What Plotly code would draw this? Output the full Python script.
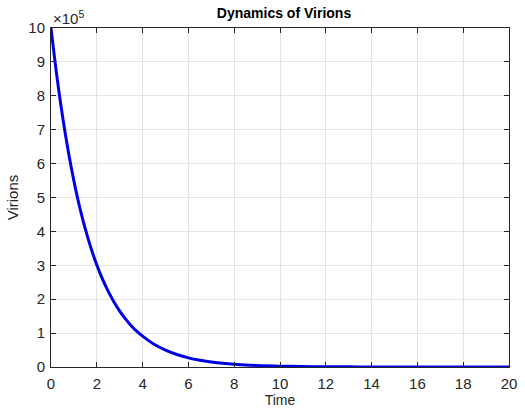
import plotly.graph_objects as go

# Values (time, virions)
time = [0, 0.25, 0.5, 0.75, 1, 1.25, 1.5, 1.75, 2, 2.25, 2.5, 2.75, 3, 3.25, 3.5, 3.75, 4,
        4.5, 5, 5.5, 6, 6.5, 7, 7.5, 8, 9, 10, 11, 12, 13, 14, 15, 16, 17, 18, 19, 20]
virions = [1000000, 861000, 741000, 638000, 549000, 472000, 407000, 350000, 301000, 259000,
           223000, 192000, 165000, 142000, 122000, 105000, 91000,
           67000, 50000, 37000, 27000, 20000, 15000, 11000, 8200, 4500, 2500, 1400, 750,
           400, 220, 120, 70, 40, 20, 10, 6]

ytick_vals = [i * 100000 for i in range(11)]
ytick_text = [str(i) for i in range(11)]
xtick_vals = list(range(0, 21, 2))

FONT = "Liberation Sans, Arial"

fig = go.Figure()
fig.add_trace(go.Scatter(x=time, y=virions, mode="lines",
                         line=dict(color="#0000E6", width=3, shape="spline"),
                         showlegend=False))

axis_common = dict(showline=True, linecolor="#262626", linewidth=1, mirror="ticks",
                   ticks="inside", ticklen=5, tickcolor="#262626",
                   showgrid=True, gridcolor="#E3E3E3", gridwidth=1, zeroline=False,
                   tickfont=dict(family=FONT, size=15, color="#262626"))

fig.update_layout(
    width=525, height=412,
    margin=dict(l=51, r=8, t=28, b=43),
    paper_bgcolor="white", plot_bgcolor="white",
    title=dict(text="<b>Dynamics of Virions</b>", x=(51 + 517) / 2 / 525, xanchor="center",
               y=1 - 13 / 412, yanchor="middle",
               font=dict(family=FONT, size=14, color="black")),
    xaxis=dict(range=[0, 20], tickvals=xtick_vals, ticklabelstandoff=3,
               title=dict(text="Time", standoff=2,
                          font=dict(family=FONT, size=14, color="#262626")),
               **axis_common),
    yaxis=dict(range=[0, 1000000], tickvals=ytick_vals, ticktext=ytick_text,
               ticklabelstandoff=2,
               title=dict(text="Virions", standoff=6,
                          font=dict(family=FONT, size=15, color="#262626")),
               **axis_common),
    annotations=[dict(text="×10<sup>5</sup>", xref="paper", yref="paper", x=0, y=1,
                      xanchor="left", yanchor="bottom", showarrow=False, yshift=-1,
                      font=dict(family=FONT, size=15, color="#262626"))],
)

fig.write_html("out.html")
